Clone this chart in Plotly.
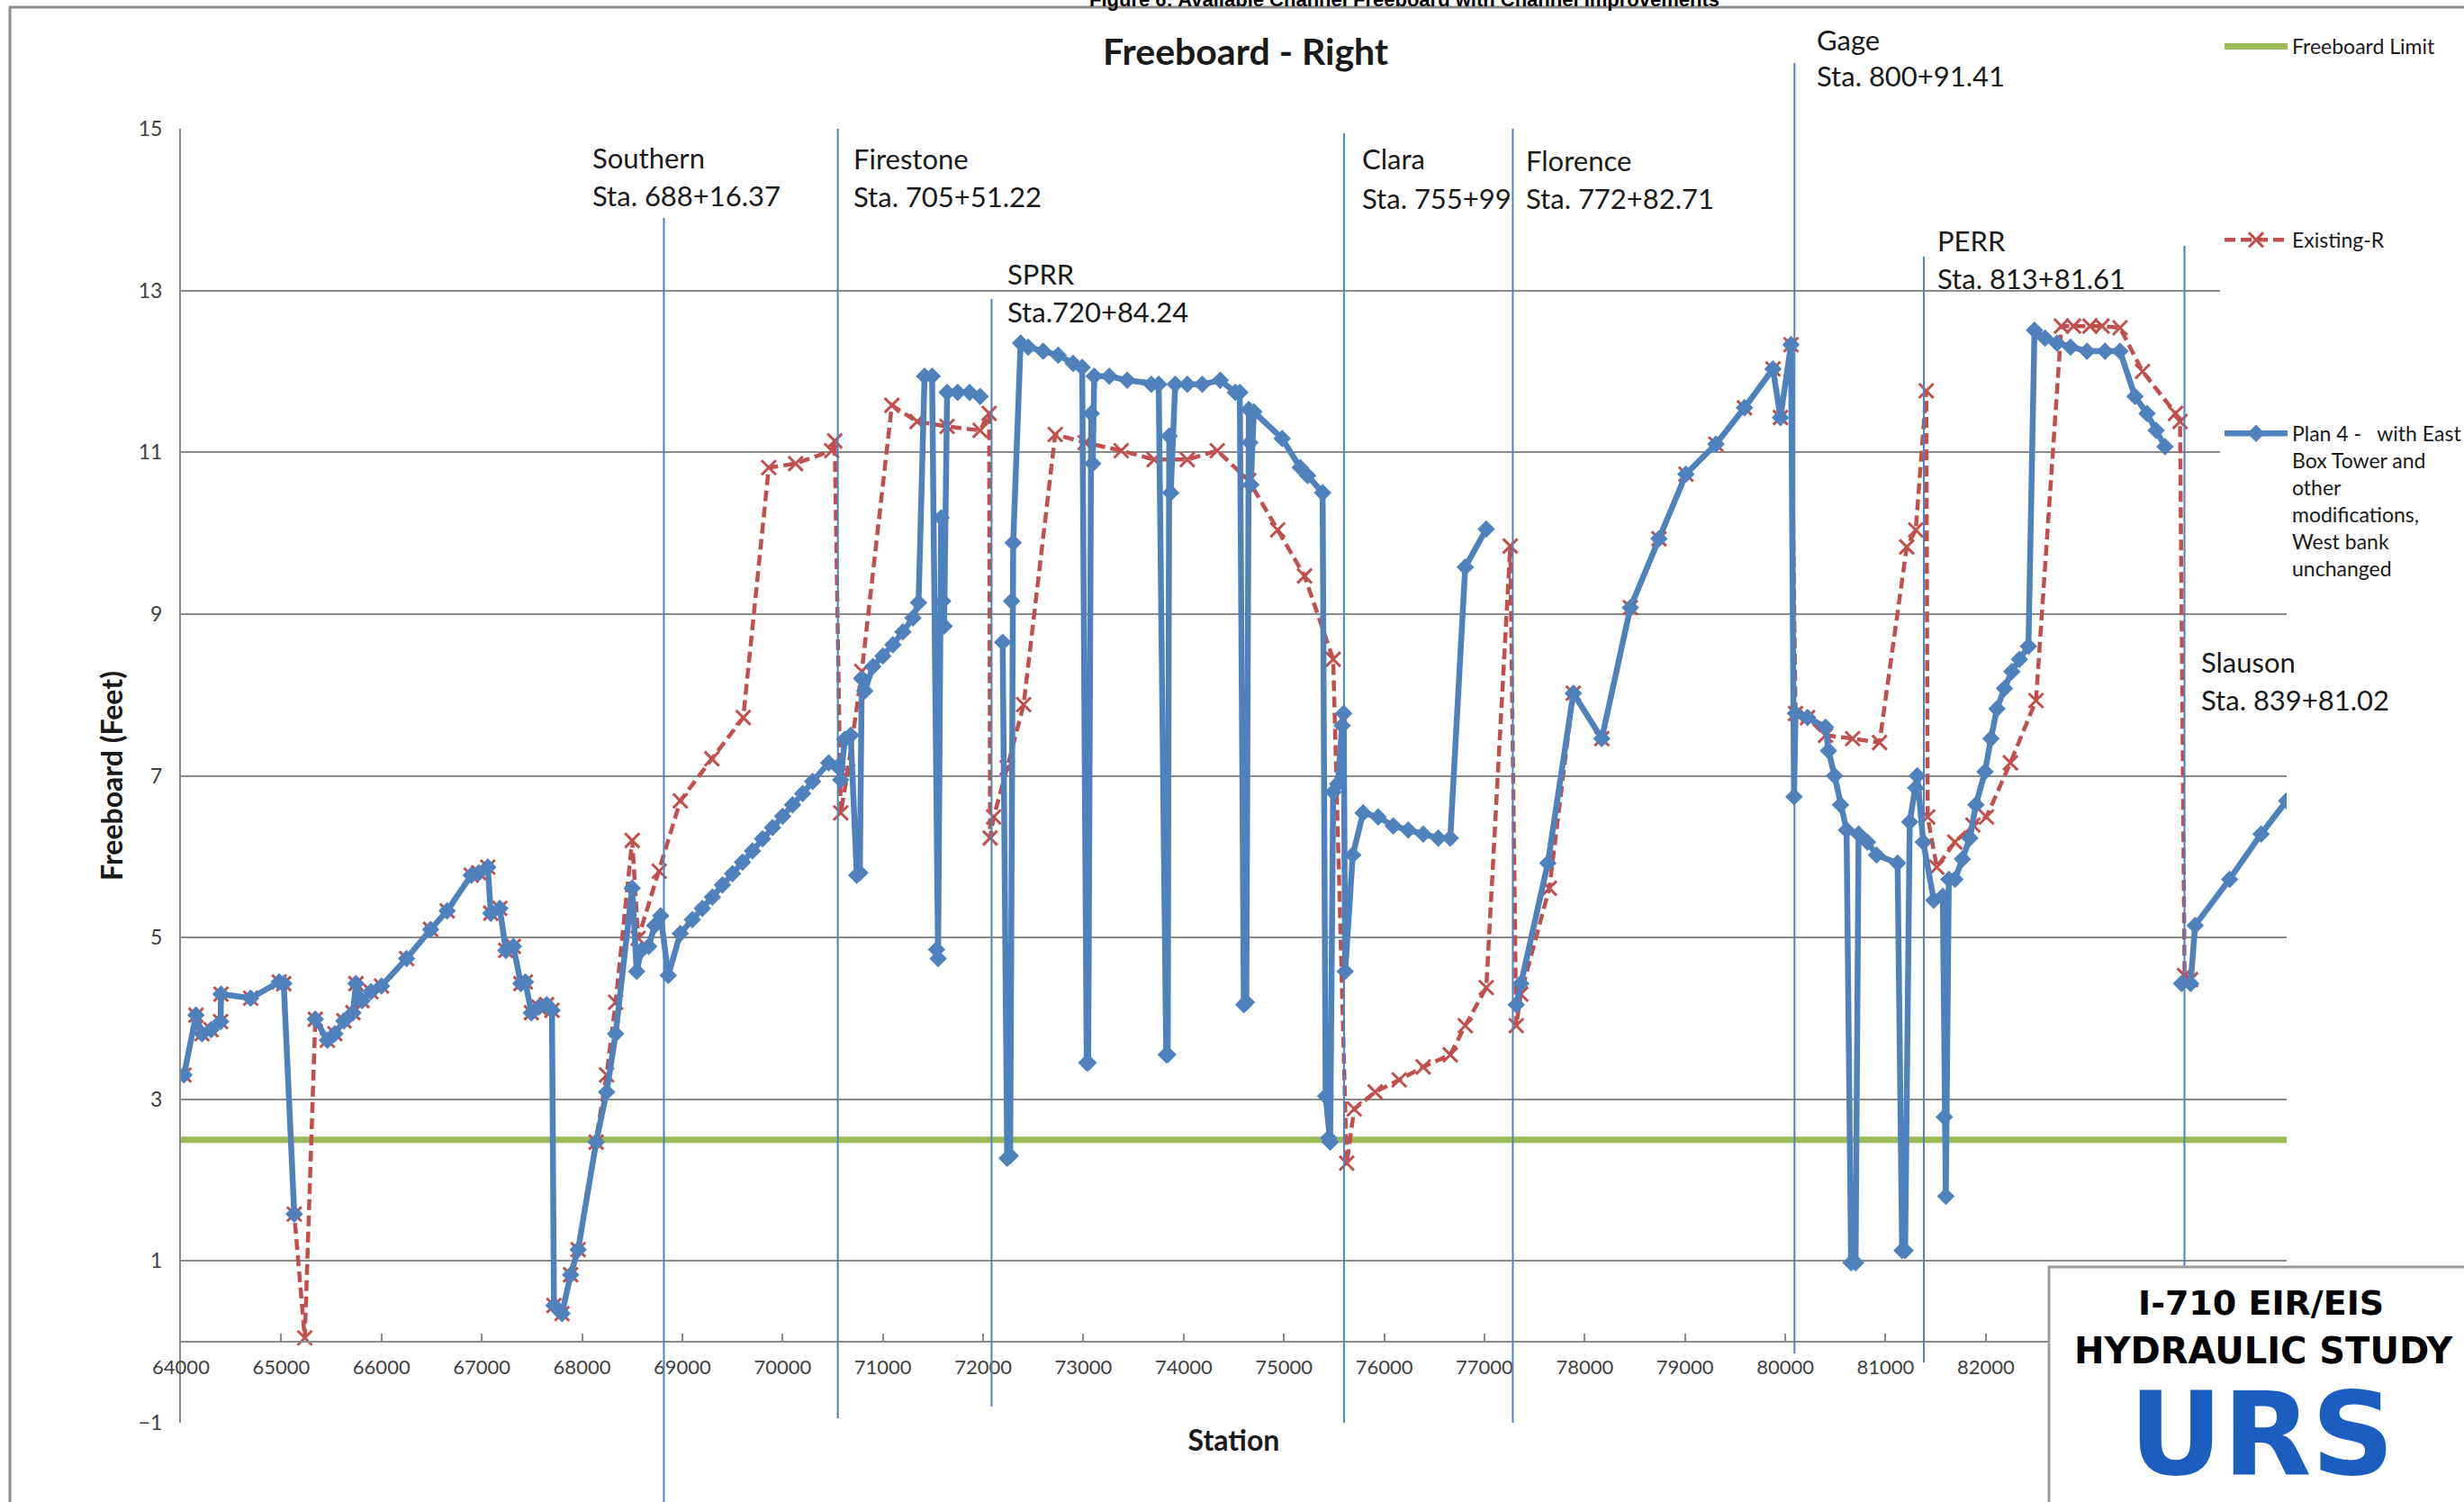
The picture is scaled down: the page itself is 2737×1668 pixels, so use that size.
import plotly.graph_objects as go

# ---------------- data ----------------
limit_x = [64000, 85000]
limit_y = [2.5, 2.5]

existing_x = [64030, 64150, 64210, 64300, 64395, 64400, 64695, 64980, 65025, 65130, 65235, 65340,
              65460, 65535, 65625, 65715, 65745, 65805, 65895, 66000, 66250, 66490, 66655, 66895,
              66970, 67060, 67090, 67180, 67240, 67315, 67390, 67435, 67495, 67570, 67647, 67700,
              67720, 67800, 67886, 67961, 68141, 68245, 68335, 68500, 68560, 68770, 68980, 69295,
              69608, 69862, 70130, 70490, 70520, 70580, 70650, 70790, 71090, 71341, 71641, 71970,
              72060, 72070, 72105, 72240, 72404, 72719, 73018, 73377, 73706, 74036, 74335, 74650,
              74937, 75206, 75491, 75626, 75701, 75910, 76150, 76389, 76659, 76808, 77018, 77257,
              77317, 77362, 77647, 77886, 78170, 78455, 78740, 79009, 79308, 79593, 79877, 79952,
              80057, 80102, 80222, 80401, 80671, 80940, 81211, 81301, 81406, 81420, 81511, 81691,
              81871, 82006, 82245, 82500, 82754, 82874, 83039, 83159, 83338, 83563, 83892, 83937,
              83982, 84042]
existing_y = [3.30, 4.04, 3.81, 3.86, 3.96, 4.30, 4.25, 4.45, 4.43, 1.58, 0.05, 3.99,
              3.73, 3.81, 3.97, 4.07, 4.43, 4.22, 4.33, 4.40, 4.74, 5.10, 5.33, 5.77,
              5.80, 5.87, 5.30, 5.36, 4.84, 4.89, 4.43, 4.45, 4.07, 4.14, 4.17, 4.10,
              0.45, 0.35, 0.83, 1.14, 2.47, 3.30, 4.20, 6.20, 4.99, 5.82, 6.69, 7.21,
              7.72, 10.81, 10.86, 11.02, 11.14, 6.54, 7.05, 8.29, 11.58, 11.38, 11.32, 11.27,
              11.48, 6.23, 6.49, 7.10, 7.88, 11.22, 11.12, 11.02, 10.91, 10.91, 11.02, 10.65,
              10.04, 9.47, 8.44, 2.21, 2.88, 3.09, 3.24, 3.40, 3.55, 3.91, 4.38, 9.84,
              3.91, 4.30, 5.61, 8.02, 7.46, 9.08, 9.93, 10.73, 11.10, 11.55, 12.03, 11.43,
              12.33, 7.77, 7.72, 7.50, 7.46, 7.41, 9.83, 10.04, 11.76, 6.49, 5.87, 6.18,
              6.39, 6.49, 7.16, 7.93, 12.56, 12.56, 12.56, 12.56, 12.54, 12.00, 11.48, 11.38,
              4.53, 4.48]

plan_x = [64030, 64150, 64210, 64300, 64395, 64400, 64695, 64980, 65025, 65130, 65235, 65340,
          65460, 65535, 65625, 65715, 65745, 65805, 65895, 66000, 66250, 66490, 66655, 66895,
          66970, 67060, 67090, 67180, 67240, 67315, 67390, 67435, 67495, 67570, 67647, 67700,
          67720, 67800, 67886, 67961, 68141, 68245, 68335, 68500, 68545, 68590, 68665, 68725,
          68785, 68860, 68980, 69100, 69200, 69300, 69400, 69500, 69600, 69700, 69800, 69900,
          70000, 70100, 70200, 70300, 70460, 70550, 70580, 70620, 70680, 70740, 70770, 70790,
          70820, 70900, 71000, 71100, 71200, 71300, 71356, 71416, 71491, 71536, 71551, 71581,
          71596, 71611, 71641, 71746, 71865, 71970, 72075, 72195, 72240, 72270, 72284, 72300,
          72374, 72449, 72599, 72749, 72898, 72988, 73033, 73048, 73078, 73093, 73108, 73258,
          73437, 73677, 73751, 73826, 73841, 73856, 73871, 73916, 74036, 74185, 74365, 74515,
          74560, 74600, 74625, 74650, 74660, 74670, 74700, 74982, 75162, 75237, 75386, 75416,
          75446, 75461, 75491, 75536, 75581, 75596, 75611, 75686, 75790, 75940, 76090, 76240,
          76389, 76539, 76659, 76808, 77018, 77200, 77317, 77362, 77632, 77886, 78170, 78455,
          78740, 79009, 79308, 79593, 79877, 79952, 80057, 80087, 80102, 80222, 80401, 80431,
          80491, 80551, 80611, 80656, 80701, 80731, 80820, 80910, 81120, 81165, 81195, 81241,
          81301, 81316, 81376, 81481, 81571, 81586, 81601, 81631, 81692, 81766, 81841, 81901,
          81991, 82051, 82111, 82186, 82260, 82335, 82425, 82485, 82590, 82710, 82844, 83009,
          83189, 83338, 83488, 83608, 83698, 83787, 83900, 83952, 84042, 84087, 84431, 84745,
          85000]
plan_y = [3.30, 4.04, 3.81, 3.86, 3.96, 4.30, 4.25, 4.45, 4.43, 1.58, None, 3.99,
          3.73, 3.81, 3.97, 4.07, 4.43, 4.22, 4.33, 4.40, 4.74, 5.10, 5.33, 5.77,
          5.80, 5.87, 5.30, 5.36, 4.84, 4.89, 4.43, 4.45, 4.07, 4.14, 4.17, 4.10,
          0.45, 0.35, 0.83, 1.14, 2.47, 3.09, 3.81, 5.61, 4.58, 4.84, 4.89, 5.15,
          5.27, 4.53, 5.05, 5.22, 5.36, 5.50, 5.65, 5.79, 5.93, 6.07, 6.22, 6.36,
          6.50, 6.64, 6.78, 6.93, 7.16, 7.11, 6.95, 7.45, 7.50, 5.77, 5.80, 8.20,
          8.05, 8.35, 8.48, 8.62, 8.78, 8.95, 9.14, 11.94, 11.94, 4.85, 4.74, 10.19,
          9.16, 8.85, 11.74, 11.74, 11.74, 11.69, None, 8.65, 2.27, 2.30, 9.16, 9.88,
          12.35, 12.30, 12.25, 12.20, 12.10, 12.05, 3.45, 3.45, 11.48, 10.86, 11.94, 11.94,
          11.89, 11.84, 11.84, 3.55, 3.55, 11.20, 10.50, 11.84, 11.84, 11.84, 11.89, 11.74,
          11.74, 4.17, 4.20, 11.53, 11.12, 10.60, 11.50, 11.17, 10.81, 10.71, 10.50, 3.04,
          2.52, 2.47, 6.80, 6.90, 7.62, 7.77, 4.58, 6.02, 6.54, 6.49, 6.38, 6.33,
          6.28, 6.23, 6.23, 9.58, 10.05, None, 4.17, 4.43, 5.92, 8.02, 7.46, 9.08,
          9.93, 10.73, 11.10, 11.55, 12.03, 11.43, 12.33, 6.74, 7.77, 7.72, 7.60, 7.31,
          7.00, 6.64, 6.33, 0.98, 0.98, 6.28, 6.18, 6.02, 5.92, 1.13, 1.13, 6.43,
          6.85, 7.00, 6.18, 5.46, 5.51, 2.78, 1.80, 5.72, 5.72, 5.97, 6.23, 6.64,
          7.05, 7.46, 7.83, 8.08, 8.29, 8.44, 8.60, 12.51, 12.41, 12.35, 12.30, 12.25,
          12.25, 12.25, 11.69, 11.48, 11.27, 11.07, None, 4.43, 4.43, 5.15, 5.72, 6.28,
          6.69]

station_names = ["Southern", "Firestone", "SPRR", "Clara", "Florence", "Gage", "PERR", "Slauson"]
station_texts = ["Sta. 688+16.37", "Sta. 705+51.22", "Sta.720+84.24", "Sta. 755+99",
                 "Sta. 772+82.71", "Sta. 800+91.41", "Sta. 813+81.61", "Sta. 839+81.02"]
station_x = [68816.37, 70551.22, 72084.24, 75599, 77282.71, 80091.41, 81381.61, 83981.02]

x_ticks = [64000, 65000, 66000, 67000, 68000, 69000, 70000, 71000, 72000,
           73000, 74000, 75000, 76000, 77000, 78000, 79000, 80000, 81000, 82000]
y_ticks = [-1, 1, 3, 5, 7, 9, 11, 13, 15]

# ---------------- layout geometry (pixels) ----------------
W, H = 2737, 1668
ML, MR, MT, MB = 201, 197, 143, 88
PW, PH = W - ML - MR, H - MT - MB


def xp(px):
    return (px - ML) / PW


def yp(py):
    return (H - MB - py) / PH


line_top_px = [242, 143, 332, 148, 143, 70, 285, 273]
line_bot_px = [1668, 1575, 1562, 1580, 1580, 1503, 1513, 1420]
label_left_px = [656, 946, 1117, 1511, 1693, 2016, 2150, 2443]
label_y1_px = [175, 176, 304, 176, 178, 44, 267, 735]
label_y2_px = [217, 218, 346, 220, 220, 84, 309, 777]

BLUE = "#4F81BD"
RED = "#C0504D"
GREEN = "#9BBB59"
FONT = "Lato, 'Open Sans', sans-serif"

fig = go.Figure()

fig.add_trace(go.Scatter(
    x=limit_x, y=limit_y, mode="lines", name="Freeboard Limit",
    legendgroup="g1", line=dict(color=GREEN, width=7)))

fig.add_trace(go.Scatter(
    x=existing_x, y=existing_y, mode="lines+markers", name="Existing-R",
    legendgroup="g2",
    line=dict(color=RED, width=4.5, dash="12px,6px"),
    marker=dict(symbol="x-thin-open", size=16, color=RED, line=dict(color=RED, width=3))))

fig.add_trace(go.Scatter(
    x=plan_x, y=plan_y, mode="lines+markers",
    name="Plan 4 -   with East<br>Box Tower and<br>other<br>modifications,<br>West bank<br>unchanged",
    legendgroup="g3",
    line=dict(color=BLUE, width=6.5),
    marker=dict(symbol="diamond", size=15, color=BLUE)))

shapes = []
for sx, t, b in zip(station_x, line_top_px, line_bot_px):
    shapes.append(dict(type="line", xref="x", yref="paper", x0=sx, x1=sx,
                       y0=yp(b), y1=yp(t), line=dict(color=BLUE, width=2), layer="above"))

# outer chart frame
shapes.append(dict(type="rect", xref="paper", yref="paper", x0=xp(11), x1=xp(2800),
                   y0=yp(1720), y1=yp(8), line=dict(color="#8c8c8c", width=3),
                   fillcolor="rgba(0,0,0,0)", layer="above"))
# URS box
shapes.append(dict(type="rect", xref="paper", yref="paper", x0=xp(2276), x1=xp(2800),
                   y0=yp(1720), y1=yp(1407), line=dict(color="#9a9a9a", width=3),
                   fillcolor="white", layer="above"))

annotations = []
for name, txt, lx, y1, y2 in zip(station_names, station_texts, label_left_px, label_y1_px, label_y2_px):
    annotations.append(dict(text=name, xref="paper", yref="paper", x=xp(lx), y=yp(y1),
                            xanchor="left", yanchor="middle", showarrow=False,
                            font=dict(family=FONT, size=31, color="#1a1a1a")))
    annotations.append(dict(text=txt, xref="paper", yref="paper", x=xp(lx), y=yp(y2),
                            xanchor="left", yanchor="middle", showarrow=False,
                            font=dict(family=FONT, size=31, color="#1a1a1a")))

annotations += [
    dict(text="<b>Figure 6: Available Channel Freeboard with Channel Improvements</b>",
         xref="paper", yref="paper", x=xp(1560), y=yp(0), xanchor="center", yanchor="middle",
         showarrow=False, font=dict(family="'Liberation Sans Narrow', 'Liberation Sans', sans-serif",
                                    size=22, color="black")),
    dict(text="<b>Freeboard - Right</b>", xref="paper", yref="paper", x=xp(1384), y=yp(56),
         xanchor="center", yanchor="middle", showarrow=False,
         font=dict(family=FONT, size=41, color="#1a1a1a")),
    dict(text="<b>I-710 EIR/EIS</b>", xref="paper", yref="paper", x=xp(2511), y=yp(1447),
         xanchor="center", yanchor="middle", showarrow=False,
         font=dict(family="'DejaVu Sans', sans-serif", size=38, color="black")),
    dict(text="<b>HYDRAULIC STUDY</b>", xref="paper", yref="paper", x=xp(2514), y=yp(1500),
         xanchor="center", yanchor="middle", showarrow=False,
         font=dict(family="'DejaVu Sans', sans-serif", size=40, color="black")),
    dict(text="<b>URS</b>", xref="paper", yref="paper", x=xp(2512), y=yp(1592),
         xanchor="center", yanchor="middle", showarrow=False,
         font=dict(family="'DejaVu Sans', sans-serif", size=128, color="#1B5EBF")),
]

fig.update_layout(
    width=W, height=H,
    margin=dict(l=ML, r=MR, t=MT, b=MB, autoexpand=False),
    paper_bgcolor="white", plot_bgcolor="white",
    font=dict(family=FONT, size=23, color="#404040"),
    shapes=shapes, annotations=annotations,
    showlegend=True,
    legend=dict(x=xp(2466), y=yp(30), xanchor="left", yanchor="top",
                bgcolor="white", borderwidth=0, tracegroupgap=182, valign="top",
                font=dict(family=FONT, size=23, color="#1a1a1a"), itemwidth=70,
                traceorder="grouped"),
    xaxis=dict(range=[64000, 85000], tickvals=x_ticks, tickformat="d", anchor="free",
               position=(0 - (-1)) / 16, showgrid=False, zeroline=False,
               showline=True, linecolor="#8a8a8a", linewidth=2,
               ticks="inside", ticklen=8, tickwidth=2, tickcolor="#8a8a8a",
               tickfont=dict(family=FONT, size=22, color="#404040"),
               ticklabelstandoff=8, automargin=False,
               title=dict(text="<b>Station</b>", standoff=58,
                          font=dict(family=FONT, size=32, color="#1a1a1a"))),
    yaxis=dict(range=[-1, 15], tickvals=y_ticks, showgrid=True, gridcolor="#8a8a8a",
               gridwidth=2, zeroline=False, showline=True, linecolor="#8a8a8a",
               linewidth=2, ticks="", tickfont=dict(family=FONT, size=23, color="#404040"),
               ticklabelstandoff=14, automargin=False,
               title=dict(text="<b>Freeboard (Feet)</b>", standoff=8,
                          font=dict(family=FONT, size=32, color="#1a1a1a"))),
)

fig.write_html("out.html", config={"displayModeBar": False},
               post_script="document.body.style.margin='0px';document.body.style.overflow='hidden';")
